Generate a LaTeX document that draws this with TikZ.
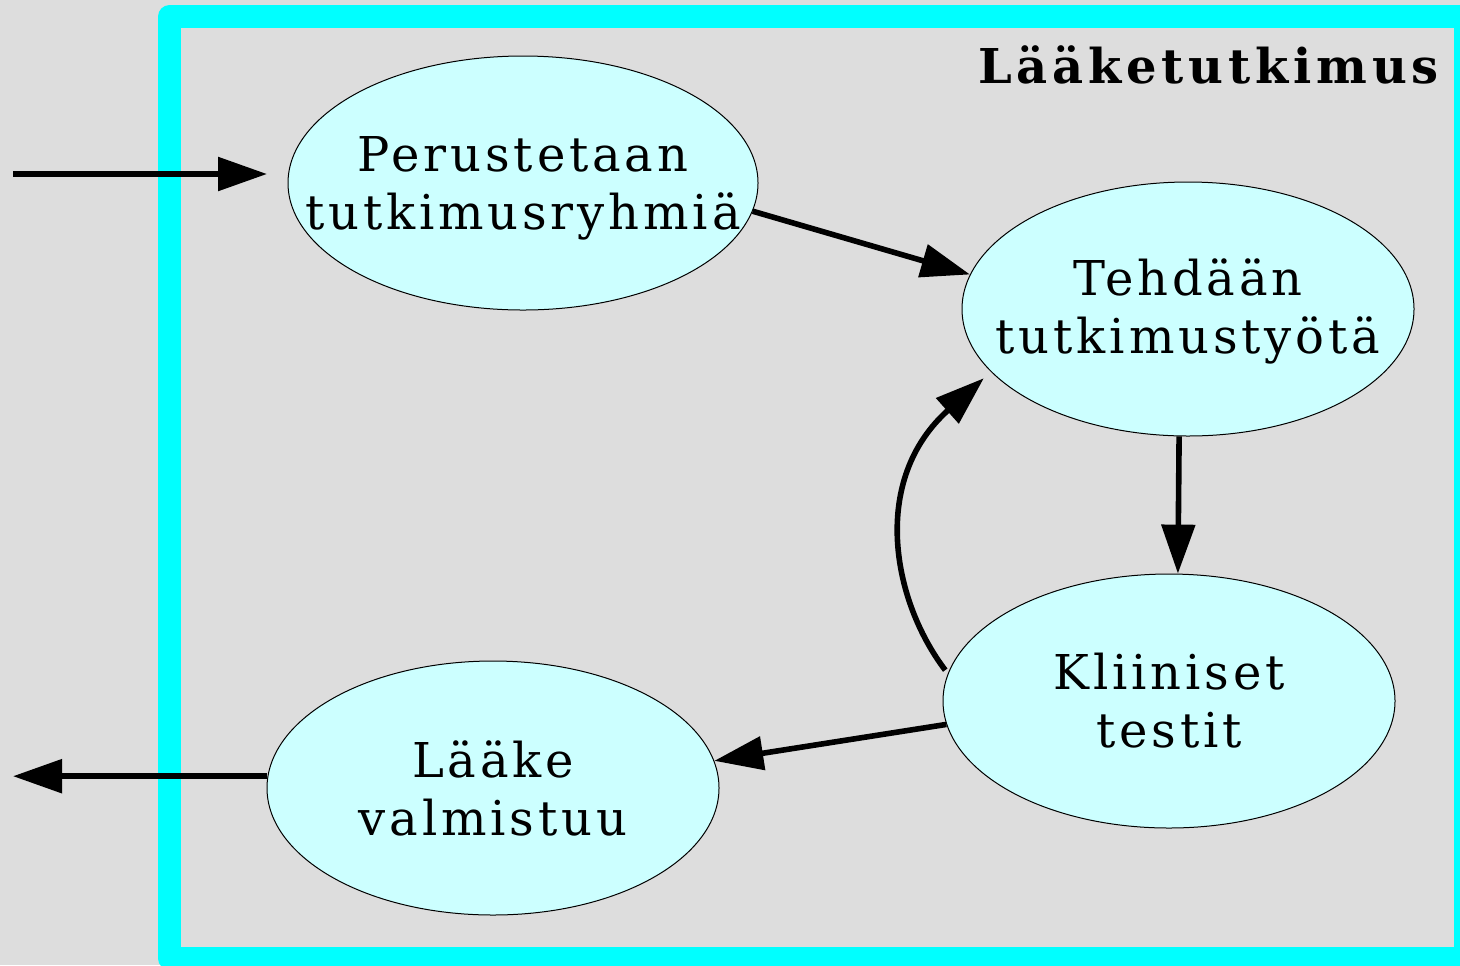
\documentclass[tikz,border=0pt]{standalone}
\usepackage{fontspec}
\setmainfont{DejaVu Serif}[LetterSpace=8]
\usetikzlibrary{shapes.geometric,arrows.meta}
\definecolor{bg}{HTML}{DDDDDD}
\definecolor{frame}{HTML}{00FFFF}
\definecolor{stagefill}{HTML}{CCFFFF}
\newcommand{\stagefont}{\fontsize{24}{29}\selectfont}

\begin{document}
\begin{tikzpicture}[x = 0.5pt, y = -0.5pt,
    stage/.style = {ellipse, draw, line width = 0.5pt, fill = stagefill,
      minimum width = 226pt, minimum height = 127pt, inner sep = 0pt},
    flow/.style = {line width = 2.8pt, -{Triangle[length = 24.5pt, width = 16.5pt]}}]
      \fill [bg] (0, 0) rectangle (1460, 965);
      \useasboundingbox (0, 0) rectangle (1460, 965);
      \draw [frame, line width = 11.5pt, line join = round] (169.5, 16.5) rectangle (1465.5, 958.5);
      \node [anchor = base east, font = \bfseries\stagefont\addfontfeature{LetterSpace=10}] (title) at (1446, 83) {Lääketutkimus};
      % stages
      \node [stage, minimum width = 235pt,
        label = {[align = center, font = \stagefont, yshift = -2.5pt]center:Perustetaan\\tutkimusryhmiä}] (perus) at (523, 183) {};
      \node [stage, label = {[align = center, font = \stagefont, yshift = -1pt]center:Tehdään\\tutkimustyötä}] (tehdaan) at (1188, 309) {};
      \node [stage, label = {[align = center, font = \stagefont]center:Kliiniset\\testit}] (kliiniset) at (1169, 701) {};
      \node [stage, label = {[align = center, font = \stagefont]center:Lääke\\valmistuu}] (laake) at (493, 788) {};
      \coordinate (alku) at (13, 174);
      \coordinate (alkuend) at (267, 174);
      \coordinate (loppu) at (13, 778);
      % flows
      \draw [flow] (alku) -- (alkuend);
      \draw [flow] (perus.-7) -- (tehdaan.171);
      \draw [flow] (tehdaan.-94) -- (kliiniset.86);
      \draw [flow] ([xshift = -2pt]kliiniset.172) .. controls (892, 600) and (870, 480) .. ([xshift = -7pt]tehdaan.-160);
      \draw [flow] (kliiniset.-174) -- (laake.7);
      \draw [flow] (laake.177) -- (laake.177 -| loppu);
    \end{tikzpicture}
\end{document}
